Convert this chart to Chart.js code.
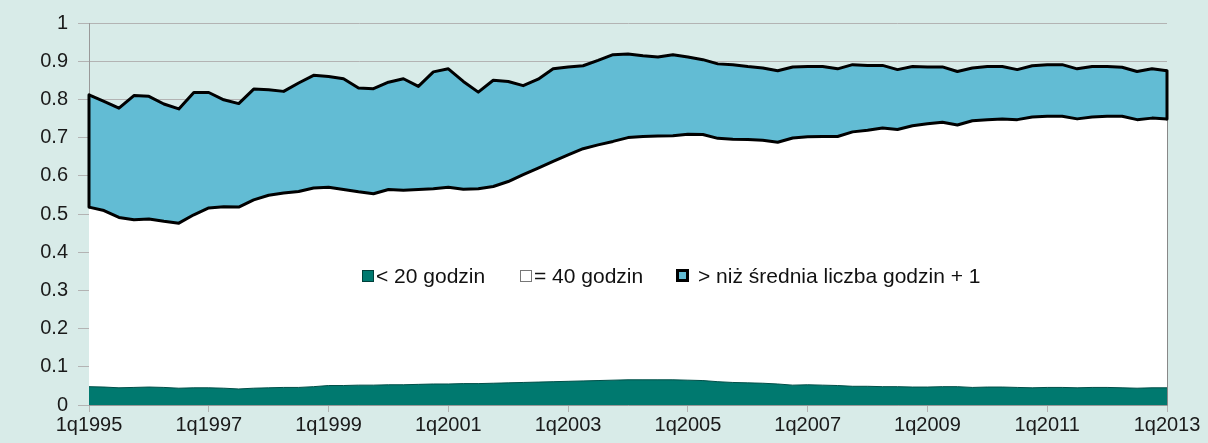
<!DOCTYPE html>
<html>
<head>
<meta charset="utf-8">
<script src="https://cdn.jsdelivr.net/npm/chart.js@4"></script>
<style>
  html, body { margin: 0; padding: 0; background: #d8ebe8; }
  #wrap { position: relative; width: 1208px; height: 443px; }
  .legend-item { position: absolute; top: 264px; font: 21px "Liberation Sans", Arial, sans-serif; color: #111; white-space: nowrap; line-height: 24px; }
  .legend-item i { display: inline-block; vertical-align: middle; box-sizing: border-box; margin-right: 2px; margin-top: -3px; }
</style>
</head>
<body>
<div id="wrap">
  <canvas id="chart"></canvas>
  <div id="legend"></div>
</div>
<script>
// quarterly categories 1q1995 .. 1q2013
const quarters = [];
for (let y = 1995; y <= 2013; y++) {
  for (let q = 1; q <= 4; q++) {
    if (y === 2013 && q > 1) break;
    quarters.push(q + "q" + y);
  }
}

const yTicks = [0, 0.1, 0.2, 0.3, 0.4, 0.5, 0.6, 0.7, 0.8, 0.9, 1];

const seriesNames = ["< 20 godzin", "= 40 godzin", "> niż średnia liczba godzin + 1"];

// < 20 godzin
const under20 = [
  0.048, 0.047, 0.045, 0.046, 0.047, 0.046, 0.044, 0.045, 0.045,
  0.044, 0.042, 0.044, 0.045, 0.046, 0.046, 0.048, 0.051,
  0.051, 0.052, 0.052, 0.053, 0.053, 0.054, 0.055, 0.055,
  0.056, 0.056, 0.057, 0.058, 0.059, 0.060, 0.061, 0.062,
  0.063, 0.064, 0.065, 0.066, 0.066, 0.066, 0.066, 0.065,
  0.064, 0.061, 0.059, 0.058, 0.057, 0.055, 0.052, 0.053,
  0.052, 0.051, 0.049, 0.049, 0.048, 0.048, 0.047, 0.047,
  0.048, 0.048, 0.046, 0.047, 0.047, 0.046, 0.045, 0.046,
  0.046, 0.045, 0.046, 0.046, 0.045, 0.044, 0.045, 0.045
];

// = 40 godzin
const exactly40 = [
  0.518, 0.509, 0.491, 0.485, 0.487, 0.481, 0.476, 0.498, 0.516, 0.519, 0.518, 0.537, 0.549,
  0.555, 0.559, 0.568, 0.570, 0.564, 0.558, 0.553, 0.564, 0.562, 0.564, 0.566, 0.570,
  0.565, 0.566, 0.572, 0.585, 0.603, 0.620, 0.638, 0.655, 0.671, 0.681, 0.690, 0.700,
  0.703, 0.704, 0.705, 0.709, 0.708, 0.698, 0.696, 0.695, 0.693, 0.688, 0.699, 0.702,
  0.703, 0.703, 0.715, 0.719, 0.725, 0.721, 0.731, 0.736, 0.740, 0.733, 0.744, 0.747,
  0.749, 0.747, 0.754, 0.756, 0.756, 0.749, 0.754, 0.756, 0.756, 0.747, 0.751, 0.749
];

// > niż średnia liczba godzin + 1
const aboveAvg = [
  0.812, 0.795, 0.777, 0.810, 0.808, 0.788, 0.775, 0.818, 0.818, 0.799, 0.789, 0.827, 0.825,
  0.821, 0.843, 0.863, 0.860, 0.854, 0.830, 0.828, 0.845, 0.854, 0.834, 0.872, 0.880,
  0.847, 0.819, 0.850, 0.847, 0.836, 0.853, 0.880, 0.885, 0.888, 0.902, 0.917, 0.919,
  0.914, 0.911, 0.917, 0.911, 0.904, 0.893, 0.891, 0.886, 0.882, 0.875, 0.885, 0.886,
  0.886, 0.880, 0.891, 0.889, 0.889, 0.878, 0.886, 0.885, 0.885, 0.873, 0.882, 0.886,
  0.886, 0.878, 0.888, 0.891, 0.891, 0.880, 0.886, 0.886, 0.884, 0.873, 0.880, 0.875
];

const TEAL = "#00796f";
const BLUE = "#62bcd4";
const GRID = "#b3b3b3";
const FONT = { family: "'Liberation Sans', Arial, sans-serif", size: 20 };

// Excel-style closing edges of the top area
const areaEdges = {
  id: "areaEdges",
  afterDatasetsDraw(chart) {
    const x = chart.scales.x, y = chart.scales.y, ctx = chart.ctx;
    const last = quarters.length - 1;
    ctx.save();
    ctx.strokeStyle = "#888";
    ctx.lineWidth = 1;
    ctx.beginPath();
    ctx.moveTo(x.getPixelForValue(last) + 0.5, y.getPixelForValue(0));
    ctx.lineTo(x.getPixelForValue(last) + 0.5, y.getPixelForValue(exactly40[last]));
    ctx.stroke();
    ctx.strokeStyle = "#000";
    ctx.lineWidth = 3;
    ctx.lineCap = "round";
    [0, last].forEach(i => {
      const px = x.getPixelForValue(i);
      ctx.beginPath();
      ctx.moveTo(px, y.getPixelForValue(exactly40[i]));
      ctx.lineTo(px, y.getPixelForValue(aboveAvg[i]));
      ctx.stroke();
    });
    ctx.restore();
  }
};

new Chart(document.getElementById("chart"), {
  type: "line",
  data: {
    labels: quarters,
    datasets: [
      {
        label: seriesNames[0],
        data: under20,
        backgroundColor: TEAL,
        borderColor: "#004f48",
        borderWidth: 1,
        fill: "origin",
      },
      {
        label: seriesNames[1],
        data: exactly40,
        backgroundColor: "#ffffff",
        borderColor: "#000",
        borderWidth: 3,
        fill: "origin",
      },
      {
        label: seriesNames[2],
        data: aboveAvg,
        backgroundColor: BLUE,
        borderColor: "#000",
        borderWidth: 3,
        fill: "origin",
      },
    ],
  },
  options: {
    responsive: true,
    maintainAspectRatio: false,
    animation: false,
    elements: { point: { radius: 0 }, line: { tension: 0, borderJoinStyle: "round" } },
    layout: { padding: { top: 23, right: 41, left: 0, bottom: 0 } },
    plugins: { legend: { display: false }, tooltip: { enabled: false } },
    scales: {
      x: {
        type: "category",
        offset: false,
        afterFit: (s) => { s.height = 38; },
        border: { color: "#999", width: 1 },
        grid: { drawOnChartArea: false, tickLength: 7, color: GRID },
        ticks: {
          autoSkip: false,
          maxRotation: 0,
          padding: 1,
          color: "#1a1a1a",
          font: FONT,
          callback: (v, i) => (i % 8 === 0 ? quarters[i] : null),
        },
      },
      y: {
        min: 0,
        max: 1,
        afterFit: (s) => { s.width = 89; },
        afterBuildTicks: (s) => { s.ticks = yTicks.map(v => ({ value: v })); },
        border: { color: "#999", width: 1 },
        grid: { color: GRID, tickLength: 11 },
        ticks: {
          padding: 10,
          color: "#1a1a1a",
          font: FONT,
          callback: (v) => String(Math.round(v * 10) / 10),
        },
      },
    },
  },
  plugins: [areaEdges],
});

// legend placed inside the plot, as in the source figure
const legendSwatches = [
  { left: 362, style: "width:12px;height:12px;background:" + TEAL + ";border:1px solid #00403a;" },
  { left: 520, style: "width:12px;height:12px;background:#fff;border:1px solid #777;" },
  { left: 676, style: "width:13px;height:13px;background:" + BLUE + ";border:3px solid #000;margin-right:9px;" },
];
const legendEl = document.getElementById("legend");
seriesNames.forEach((name, i) => {
  const item = document.createElement("div");
  item.className = "legend-item";
  item.style.left = legendSwatches[i].left + "px";
  item.innerHTML = '<i style="' + legendSwatches[i].style + '"></i>';
  item.appendChild(document.createTextNode(name));
  legendEl.appendChild(item);
});
</script>
</body>
</html>
